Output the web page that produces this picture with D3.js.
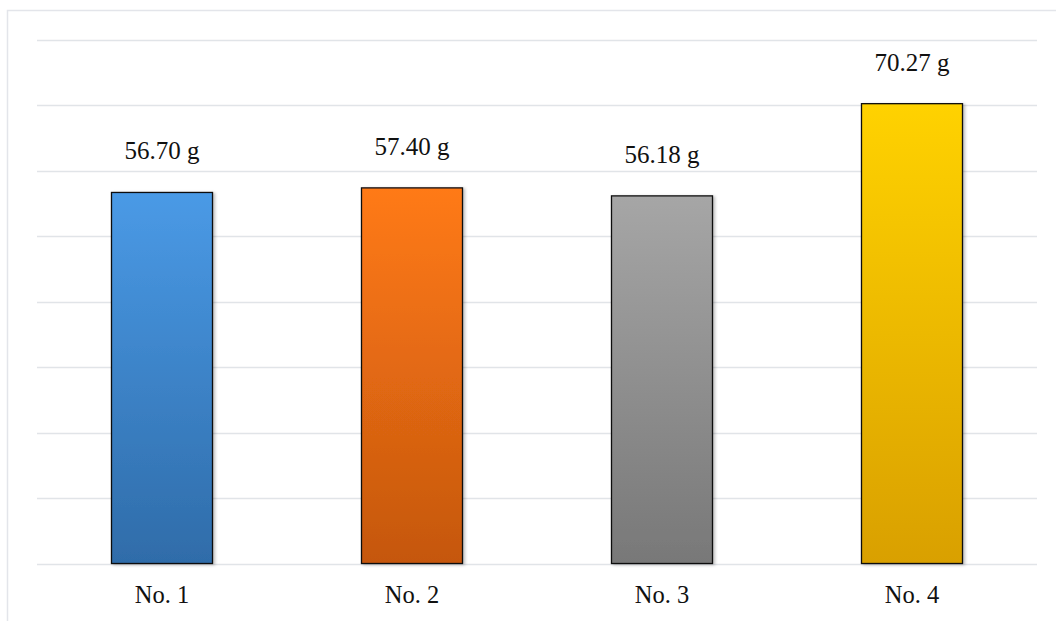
<!DOCTYPE html>
<html>
<head>
<meta charset="utf-8">
<script src="https://cdn.jsdelivr.net/npm/d3@7"></script>
<style>
  html, body { margin: 0; padding: 0; background: #fff; }
  svg { display: block; }
  text { font-family: "Liberation Serif", "Times New Roman", serif; fill: #111; }
</style>
</head>
<body>
<svg id="chart" width="1056" height="621"></svg>
<script>
const categories = ["No. 1", "No. 2", "No. 3", "No. 4"];
const values = [56.70, 57.40, 56.18, 70.27];
const valueLabels = ["56.70 g", "57.40 g", "56.18 g", "70.27 g"];
const yTicks = [0, 10, 20, 30, 40, 50, 60, 70, 80];
const gradTop = ["#4a9ae6", "#ff7a15", "#a6a6a6", "#ffd200"];
const gradBottom = ["#2f6ca9", "#c5570f", "#787878", "#d9a000"];

const svg = d3.select("#chart");
const defs = svg.append("defs");

categories.forEach((c, i) => {
  const g = defs.append("linearGradient").attr("id", "grad" + i)
    .attr("x1", 0).attr("y1", 0).attr("x2", 0).attr("y2", 1);
  g.append("stop").attr("offset", "0%").attr("stop-color", gradTop[i]);
  g.append("stop").attr("offset", "100%").attr("stop-color", gradBottom[i]);
});
const f = defs.append("filter").attr("id", "shadow")
  .attr("x", "-10%").attr("y", "-10%").attr("width", "130%").attr("height", "130%");
f.append("feDropShadow").attr("dx", 2).attr("dy", 1).attr("stdDeviation", 1.5)
  .attr("flood-color", "#000").attr("flood-opacity", 0.25);

// outer chart area border
svg.append("rect").attr("x", 7.5).attr("y", 10.5).attr("width", 1100).attr("height", 700)
  .attr("fill", "none").attr("stroke", "#e3e5ea").attr("stroke-width", 1.5);

const x = d3.scaleBand().domain(categories).range([37, 1037])
  .paddingInner(0.596).paddingOuter(0.298);
const y = d3.scaleLinear().domain([0, 80]).range([563.5, 40]);

svg.append("g").selectAll("line").data(yTicks).join("line")
  .attr("x1", 37).attr("x2", 1037)
  .attr("y1", d => Math.round(y(d)) + 0.5).attr("y2", d => Math.round(y(d)) + 0.5)
  .attr("stroke", "#e1e4e8").attr("stroke-width", 1.5);

svg.append("g").selectAll("rect").data(values).join("rect")
  .attr("x", (d, i) => x(categories[i]))
  .attr("y", d => y(d))
  .attr("width", x.bandwidth())
  .attr("height", d => y(0) - y(d))
  .attr("fill", (d, i) => `url(#grad${i})`)
  .attr("stroke", "#111").attr("stroke-width", 1.3)
  .attr("filter", "url(#shadow)");

svg.append("g").selectAll("text").data(values).join("text")
  .attr("x", (d, i) => x(categories[i]) + x.bandwidth() / 2)
  .attr("y", d => y(d) - 33)
  .attr("text-anchor", "middle")
  .style("font-size", "25px")
  .text((d, i) => valueLabels[i]);

svg.append("g").selectAll("text").data(categories).join("text")
  .attr("x", d => x(d) + x.bandwidth() / 2)
  .attr("y", 603)
  .attr("text-anchor", "middle")
  .style("font-size", "24.5px")
  .text(d => d);
</script>
</body>
</html>
